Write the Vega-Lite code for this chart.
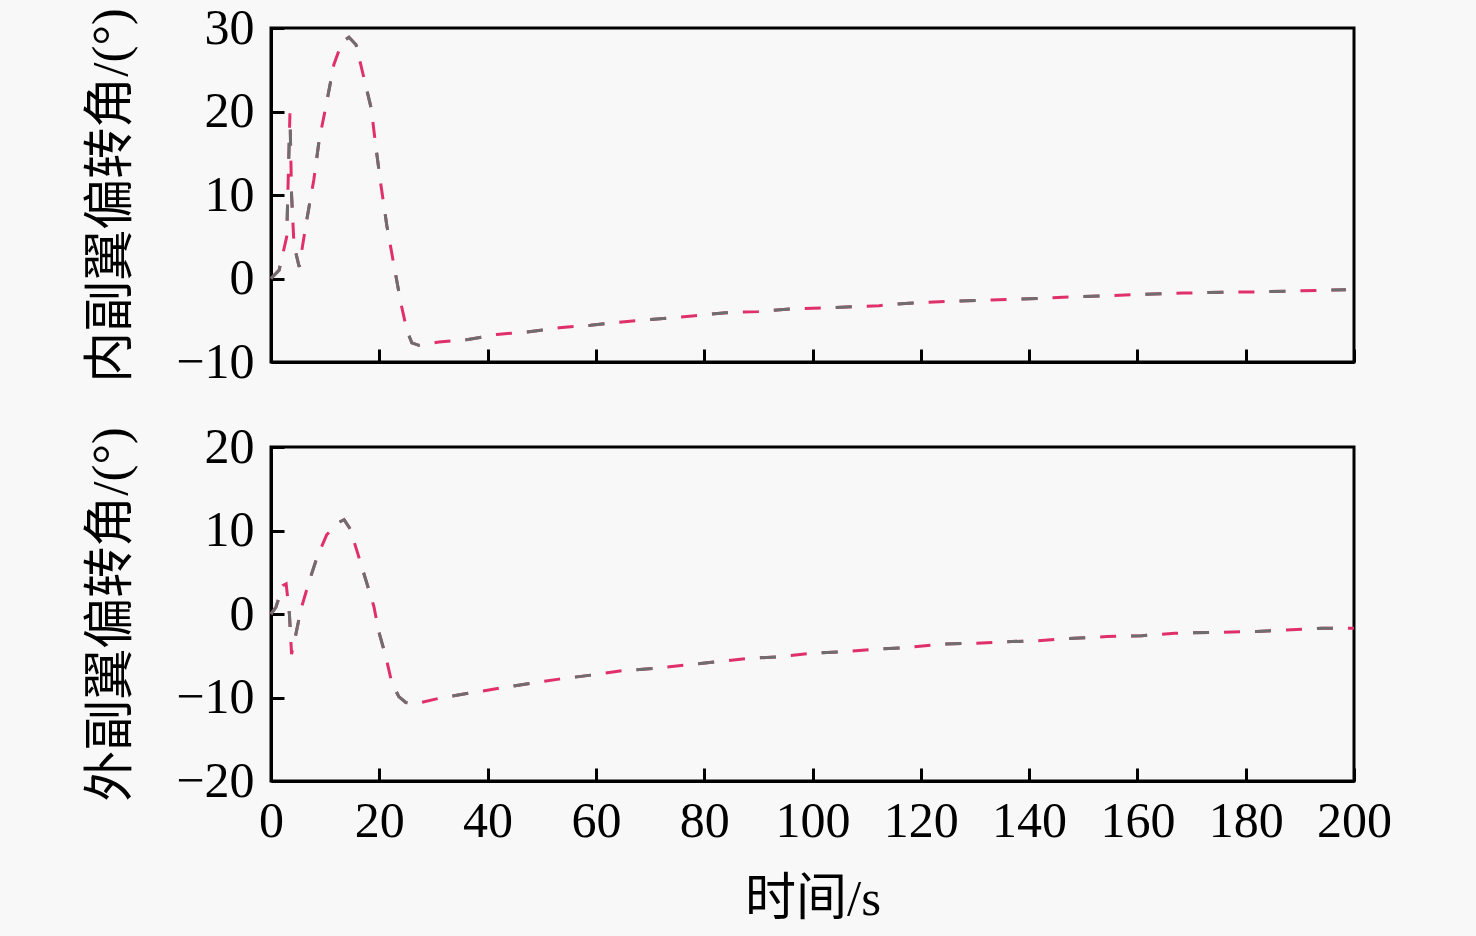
{
  "$schema": "https://vega.github.io/schema/vega-lite/v6.json",
  "background": "#f8f8f8",
  "padding": {"left": 84, "top": 1, "right": 84, "bottom": 10},
  "config": {
    "view": {"stroke": "black", "strokeWidth": 3, "fill": "#f8f8f8"},
    "font": "Liberation Serif, Noto Sans CJK SC",
    "axis": {
      "grid": false,
      "domainColor": "black",
      "domainWidth": 3,
      "tickColor": "black",
      "tickWidth": 3,
      "tickSize": -13,
      "labelFont": "Liberation Serif",
      "labelFontSize": 50,
      "labelColor": "black",
      "labelOverlap": false,
      "labelFlush": false,
      "titleFont": "Liberation Serif, Noto Sans CJK SC",
      "titleFontSize": 51,
      "titleFontWeight": "normal",
      "titleColor": "black"
    },
    "axisY": {"labelPadding": 30, "titlePadding": 38},
    "axisX": {"labelPadding": 28, "titlePadding": 28}
  },
  "datasets": {
    "inner": [
      {"t": 0, "v": 0}, {"t": 1.5, "v": 1}, {"t": 2.9, "v": 5}, {"t": 3.5, "v": 19.8},
      {"t": 3.8, "v": 10}, {"t": 4.25, "v": 4}, {"t": 5.2, "v": 1.4}, {"t": 6.6, "v": 7},
      {"t": 7.9, "v": 11.8}, {"t": 8.9, "v": 16.6}, {"t": 10.2, "v": 20.8}, {"t": 11.6, "v": 25.6},
      {"t": 13.1, "v": 28.3}, {"t": 14.4, "v": 28.9}, {"t": 15.7, "v": 28}, {"t": 16.8, "v": 25},
      {"t": 18.5, "v": 20.4}, {"t": 19.4, "v": 15.6}, {"t": 20.3, "v": 11.2}, {"t": 21.4, "v": 6.3},
      {"t": 22.7, "v": 1.6}, {"t": 24, "v": -3}, {"t": 25.1, "v": -6.2}, {"t": 26, "v": -7.7},
      {"t": 27.3, "v": -8}, {"t": 31, "v": -7.6}, {"t": 36.4, "v": -7.3}, {"t": 41.7, "v": -6.7},
      {"t": 47.3, "v": -6.4}, {"t": 53.2, "v": -5.9}, {"t": 59, "v": -5.6}, {"t": 64.8, "v": -5.2},
      {"t": 71.3, "v": -4.85}, {"t": 77.8, "v": -4.5}, {"t": 84, "v": -4.1}, {"t": 90, "v": -3.95},
      {"t": 96, "v": -3.65}, {"t": 102.7, "v": -3.5}, {"t": 112.3, "v": -3.25}, {"t": 117.8, "v": -2.95},
      {"t": 124.7, "v": -2.75}, {"t": 131, "v": -2.6}, {"t": 136.8, "v": -2.5}, {"t": 141.5, "v": -2.4},
      {"t": 148.3, "v": -2.2}, {"t": 155.2, "v": -2.05}, {"t": 161, "v": -1.9}, {"t": 168.3, "v": -1.75},
      {"t": 175.7, "v": -1.65}, {"t": 182, "v": -1.6}, {"t": 188.4, "v": -1.5}, {"t": 196, "v": -1.38},
      {"t": 198.5, "v": -1.35}
    ],
    "outer": [
      {"t": 0, "v": 0}, {"t": 0.9, "v": 0.8}, {"t": 2.2, "v": 3.4}, {"t": 2.8, "v": 3.6},
      {"t": 3.4, "v": 0}, {"t": 3.8, "v": -4.8}, {"t": 4.6, "v": -2.4}, {"t": 5.5, "v": 0.5},
      {"t": 7, "v": 3.8}, {"t": 8.5, "v": 6.8}, {"t": 10.3, "v": 9.5}, {"t": 12.6, "v": 11},
      {"t": 13.5, "v": 11.3}, {"t": 14.6, "v": 10.2}, {"t": 15.9, "v": 7.5}, {"t": 17.5, "v": 4.1},
      {"t": 19, "v": 0.9}, {"t": 19.9, "v": -2.1}, {"t": 21.2, "v": -5.1}, {"t": 22.3, "v": -8.2},
      {"t": 23.6, "v": -9.9}, {"t": 24.9, "v": -10.6}, {"t": 26.4, "v": -10.8}, {"t": 31, "v": -10.1},
      {"t": 36.4, "v": -9.5}, {"t": 42.1, "v": -8.9}, {"t": 48, "v": -8.3}, {"t": 53.2, "v": -7.8},
      {"t": 59.3, "v": -7.3}, {"t": 64.8, "v": -6.8}, {"t": 71.1, "v": -6.5}, {"t": 76.8, "v": -6.1},
      {"t": 82.7, "v": -5.7}, {"t": 88.6, "v": -5.3}, {"t": 94.4, "v": -5.1}, {"t": 99.9, "v": -4.7},
      {"t": 105.9, "v": -4.5}, {"t": 111.9, "v": -4.2}, {"t": 117.8, "v": -4.0}, {"t": 124, "v": -3.6},
      {"t": 130, "v": -3.5}, {"t": 136.8, "v": -3.3}, {"t": 141.5, "v": -3.2}, {"t": 148.3, "v": -2.9},
      {"t": 154.4, "v": -2.7}, {"t": 160.8, "v": -2.6}, {"t": 166.9, "v": -2.3}, {"t": 174.5, "v": -2.2},
      {"t": 182, "v": -2.1}, {"t": 188.4, "v": -1.9}, {"t": 194, "v": -1.7}, {"t": 200, "v": -1.7}
    ]
  },
  "vconcat": [
    {
      "width": 1083,
      "height": 334,
      "data": {"name": "inner"},
      "encoding": {
        "x": {
          "field": "t", "type": "quantitative",
          "scale": {"domain": [0, 200], "nice": false},
          "axis": {"values": [0, 20, 40, 60, 80, 100, 120, 140, 160, 180, 200], "labels": false, "title": null}
        },
        "y": {
          "field": "v", "type": "quantitative",
          "scale": {"domain": [-10, 30], "nice": false},
          "axis": {"values": [-10, 0, 10, 20, 30], "title": "内副翼偏转角/(°)"}
        }
      },
      "layer": [
        {"mark": {"type": "line", "color": "#e0306a", "strokeWidth": 3, "strokeDash": [16, 15]}},
        {"mark": {"type": "line", "color": "#6e6e6e", "strokeWidth": 3, "strokeDash": [16, 15, 0, 31]}}
      ]
    },
    {
      "width": 1083,
      "height": 334,
      "data": {"name": "outer"},
      "encoding": {
        "x": {
          "field": "t", "type": "quantitative",
          "scale": {"domain": [0, 200], "nice": false},
          "axis": {"values": [0, 20, 40, 60, 80, 100, 120, 140, 160, 180, 200], "title": "时间/s"}
        },
        "y": {
          "field": "v", "type": "quantitative",
          "scale": {"domain": [-20, 20], "nice": false},
          "axis": {"values": [-20, -10, 0, 10, 20], "title": "外副翼偏转角/(°)"}
        }
      },
      "layer": [
        {"mark": {"type": "line", "color": "#e0306a", "strokeWidth": 3, "strokeDash": [16, 15]}},
        {"mark": {"type": "line", "color": "#6e6e6e", "strokeWidth": 3, "strokeDash": [16, 15, 0, 31]}}
      ]
    }
  ],
  "spacing": 85,
  "bounds": "flush"
}
